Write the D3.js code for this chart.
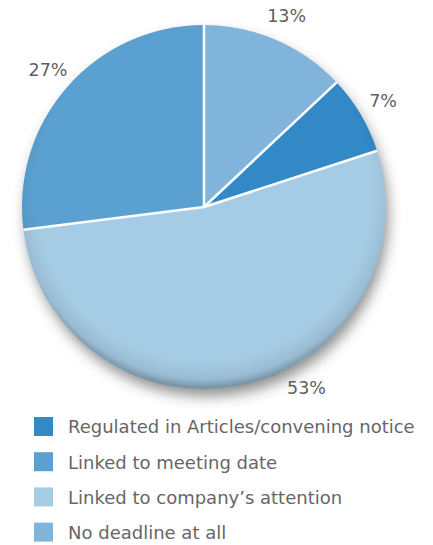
<!DOCTYPE html>
<html>
<head>
<meta charset="utf-8">
<script src="https://cdnjs.cloudflare.com/ajax/libs/d3/7.8.5/d3.min.js"></script>
<style>
  body { margin: 0; background: #fff; }
  svg { display: block; font-family: "DejaVu Sans", "Open Sans", sans-serif; }
</style>
</head>
<body>
<svg id="chart" width="433" height="545"></svg>
<script>
// slices in drawing order, clockwise from 12 o'clock
var sliceNames = ['No deadline at all', 'Regulated in Articles/convening notice', 'Linked to company\u2019s attention', 'Linked to meeting date'];
var sliceValues = [13, 7, 53, 27];
var sliceColors = ['#80b4da', '#3289c5', '#a6cce5', '#5aa1d1'];

// legend order
var legendNames = ['Regulated in Articles/convening notice', 'Linked to meeting date', 'Linked to company\u2019s attention', 'No deadline at all'];

var svg = d3.select('#chart');
var cx = 204, cy = 207, r = 182;

var defs = svg.append('defs');
var shadow = defs.append('filter').attr('id', 'shadow')
    .attr('x', '-20%').attr('y', '-20%').attr('width', '140%').attr('height', '150%');
shadow.append('feDropShadow')
    .attr('dx', 3).attr('dy', 8).attr('stdDeviation', 7)
    .attr('flood-color', '#000').attr('flood-opacity', 0.45);

var shade = defs.append('radialGradient').attr('id', 'shade')
    .attr('cx', '50%').attr('cy', '46%').attr('r', '54%');
shade.append('stop').attr('offset', '0.86').attr('stop-color', '#000').attr('stop-opacity', 0);
shade.append('stop').attr('offset', '0.95').attr('stop-color', '#000').attr('stop-opacity', 0.08);
shade.append('stop').attr('offset', '1').attr('stop-color', '#000').attr('stop-opacity', 0.3);

var data = sliceValues.map(function(v, i){ return {name: sliceNames[i], value: v, color: sliceColors[i]}; });

var pie = d3.pie().value(function(d){ return d.value; }).sort(null);
var arc = d3.arc().innerRadius(0).outerRadius(r);
var labelR = 208;

var g = svg.append('g').attr('transform', 'translate(' + cx + ',' + cy + ')');

g.append('circle').attr('r', r - 1).attr('fill', '#a6cce5').attr('filter', 'url(#shadow)');

var arcs = pie(data);

g.selectAll('path.slice')
  .data(arcs)
  .enter()
  .append('path')
  .attr('class', 'slice')
  .attr('d', arc)
  .attr('fill', function(d){ return d.data.color; });

g.append('circle').attr('r', r).attr('fill', 'url(#shade)');

// white separators
g.selectAll('line.sep')
  .data(arcs)
  .enter()
  .append('line')
  .attr('class', 'sep')
  .attr('x1', 0).attr('y1', 0)
  .attr('x2', function(d){ return r * Math.sin(d.startAngle); })
  .attr('y2', function(d){ return -r * Math.cos(d.startAngle); })
  .attr('stroke', '#fff')
  .attr('stroke-width', 2.5);

// label angle: slice middle, pulled up when it would sit on the legend
var maxLabelY = 181;
function labelAngle(d){
  var a = (d.startAngle + d.endAngle) / 2;
  if (-labelR * Math.cos(a) > maxLabelY) a = Math.PI - Math.acos(maxLabelY / labelR);
  return a;
}

g.selectAll('text.pct')
  .data(arcs)
  .enter()
  .append('text')
  .attr('class', 'pct')
  .attr('x', function(d){ return labelR * Math.sin(labelAngle(d)); })
  .attr('y', function(d){ return -labelR * Math.cos(labelAngle(d)); })
  .attr('text-anchor', 'middle')
  .attr('dy', '0.35em')
  .style('font-size', '17.5px')
  .style('fill', '#5f5f5f')
  .text(function(d){ return d.data.value + '%'; });

// legend
var colorOf = {};
data.forEach(function(d){ colorOf[d.name] = d.color; });

var legend = svg.append('g').attr('transform', 'translate(34,417)');
legend.selectAll('g')
  .data(legendNames)
  .enter()
  .append('g')
  .attr('transform', function(d, i){ return 'translate(0,' + (i * 35.2) + ')'; })
  .each(function(d){
    d3.select(this).append('rect')
      .attr('width', 19).attr('height', 19)
      .attr('fill', colorOf[d]);
    d3.select(this).append('text')
      .attr('x', 34).attr('y', 10)
      .attr('dy', '0.35em')
      .style('font-size', '18px')
      .style('fill', '#666')
      .text(d);
  });
</script>
</body>
</html>
